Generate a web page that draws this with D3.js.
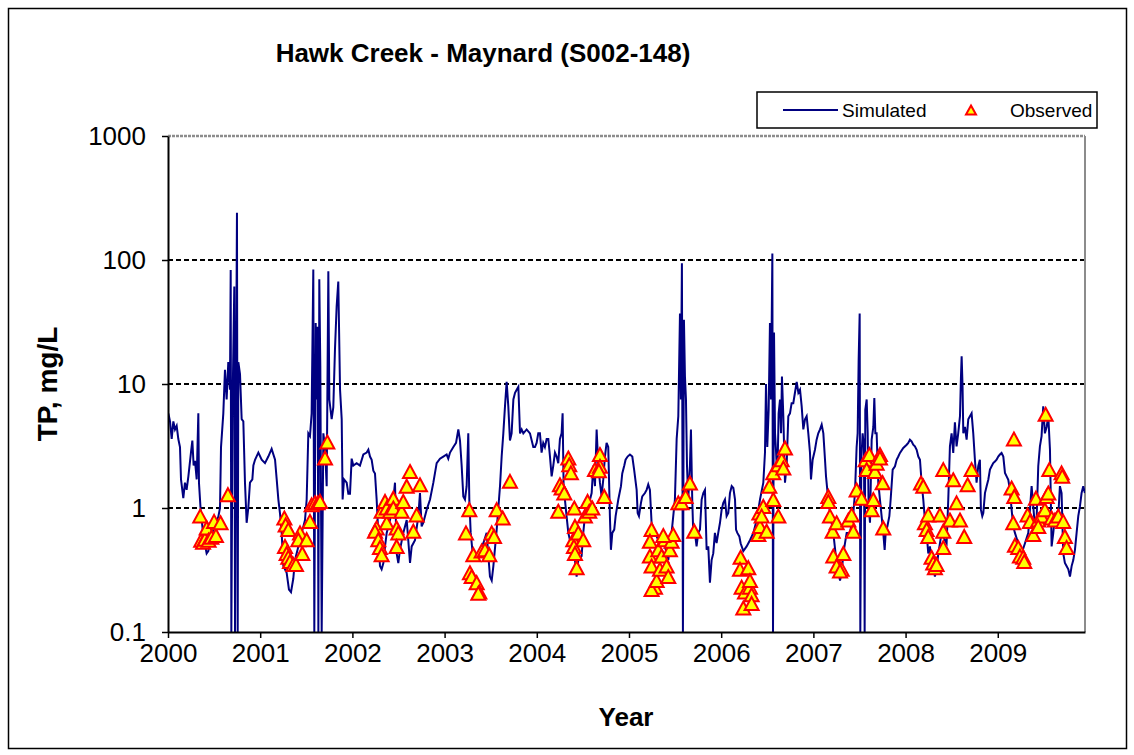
<!DOCTYPE html>
<html>
<head>
<meta charset="utf-8">
<title>Hawk Creek - Maynard TP</title>
<script src="https://cdn.jsdelivr.net/npm/d3@7"></script>
<style>
  body { margin: 0; background: #fff; }
  text { font-family: "Liberation Sans", Arial, sans-serif; }
</style>
</head>
<body>
<script>
// tick labels
var yearLabels = ["2000", "2001", "2002", "2003", "2004", "2005", "2006", "2007", "2008", "2009"];
var yTicks = [0.1, 1, 10, 100, 1000];

// simulated TP, [years since Jan 2000, mg/L]
var simulated = [
  [0.004,5.8],[0.022,5.0],[0.040,3.6],[0.058,5.0],[0.076,4.3],[0.094,4.6],[0.112,3.6],[0.130,3.1],[0.141,1.7],[0.166,1.2],[0.184,1.6],[0.202,1.4],[0.221,1.8],[0.249,2.8],[0.264,3.5],[0.278,2.2],[0.293,2.4],[0.311,1.7],[0.329,5.8],[0.336,1.6],[0.354,0.97],[0.383,0.6],[0.419,0.43],[0.437,0.45],[0.474,0.6],[0.51,0.75],[0.546,0.85],[0.564,1.0],[0.575,3.1],[0.600,5.8],[0.618,13],[0.636,7.5],[0.654,15],[0.672,9],[0.680,83],[0.687,0.1],[0.701,7.5],[0.719,61],[0.727,0.1],[0.738,10],[0.748,240],[0.756,0.1],[0.763,15],[0.781,12],[0.799,5.2],[0.817,5.0],[0.835,1.6],[0.853,0.76],[0.871,1.0],[0.889,1.6],[0.915,1.7],[0.926,2.2],[0.944,2.45],[0.980,2.8],[1.016,2.45],[1.052,2.3],[1.088,2.6],[1.124,3.0],[1.161,2.45],[1.179,1.7],[1.197,1.17],[1.215,0.9],[1.233,0.63],[1.251,0.34],[1.287,0.30],[1.312,0.22],[1.334,0.21],[1.359,0.27],[1.377,0.38],[1.414,0.49],[1.450,0.63],[1.486,0.8],[1.504,1.17],[1.522,4.0],[1.540,3.8],[1.558,5.8],[1.576,84],[1.587,0.1],[1.602,31],[1.612,7.5],[1.623,29],[1.631,0.1],[1.641,70],[1.652,14],[1.667,0.1],[1.685,4],[1.703,3.1],[1.721,1.5],[1.739,81],[1.750,7.5],[1.775,5.2],[1.793,6.5],[1.811,19],[1.829,42],[1.847,67],[1.866,9],[1.884,5.2],[1.894,1.17],[1.909,1.7],[1.938,1.6],[1.956,1.3],
  [1.974,1.3],[1.992,2.5],[2.010,2.2],[2.046,2.3],[2.082,2.2],[2.119,2.7],[2.155,2.8],[2.173,2.95],[2.191,2.6],[2.209,2.45],[2.227,2.0],[2.245,1.9],[2.263,1.17],[2.281,0.63],[2.299,0.34],[2.317,0.32],[2.336,0.36],[2.354,0.49],[2.372,0.63],[2.408,0.8],[2.444,1.17],[2.462,1.6],[2.480,0.43],[2.498,0.36],[2.516,0.46],[2.552,0.63],[2.589,0.8],[2.625,0.36],[2.643,0.49],[2.679,0.55],[2.715,0.86],[2.733,1.32],[2.751,0.71],[2.769,0.76],[2.806,0.97],[2.842,1.17],[2.878,1.6],[2.914,2.3],[2.950,2.5],[2.986,2.6],[3.022,2.7],[3.040,2.5],[3.059,2.8],[3.095,3.1],[3.124,3.35],[3.149,4.3],[3.167,3.5],[3.185,2.2],[3.203,1.24],[3.221,1.17],[3.239,1.5],[3.257,4.0],[3.268,1.17],[3.283,0.63],[3.312,0.38],[3.348,0.38],[3.384,0.46],[3.420,0.52],[3.456,0.63],[3.492,0.28],[3.511,0.26],[3.529,0.34],[3.565,0.67],[3.601,1.5],[3.619,2.6],[3.637,4.0],[3.655,6.6],[3.673,10.4],[3.691,6.6],[3.709,3.5],[3.727,4.0],[3.746,7.5],[3.764,8.5],[3.782,9.0],[3.800,9.5],[3.818,4.0],[3.836,4.3],[3.854,4.0],[3.890,4.3],[3.926,4.0],[3.962,3.1],
  [3.980,3.1],[3.998,3.35],[4.016,4.0],[4.034,4.0],[4.052,2.8],[4.070,3.35],[4.088,3.1],[4.107,3.6],[4.125,3.6],[4.143,2.6],[4.161,1.8],[4.179,2.2],[4.197,2.8],[4.215,2.6],[4.233,2.3],[4.251,3.6],[4.269,4.0],[4.280,5.8],[4.291,1.5],[4.305,1.17],[4.323,0.86],[4.342,0.63],[4.360,0.55],[4.378,0.46],[4.414,0.38],[4.432,0.28],[4.450,0.38],[4.486,0.41],[4.504,0.63],[4.522,0.86],[4.558,1.03],[4.595,1.32],[4.613,2.2],[4.631,1.5],[4.649,4.3],[4.667,2.2],[4.685,1.6],[4.703,1.24],[4.721,1.7],[4.739,2.6],[4.757,3.35],[4.775,3.1],[4.793,0.86],[4.804,0.46],[4.819,0.63],[4.840,0.67],[4.855,0.86],[4.884,1.17],[4.913,1.5],[4.927,1.9],[4.949,2.2],[4.963,2.45],[4.985,2.6],[5.010,2.7],[5.036,2.6],[5.057,2.0],[5.083,1.4],[5.094,0.91],[5.108,0.86],[5.130,1.1],[5.144,1.24],[5.173,1.32],[5.191,1.4],[5.209,1.55],[5.227,1.4],[5.245,0.76],[5.282,0.63],[5.318,0.55],[5.336,0.49],[5.354,0.59],[5.390,0.49],[5.426,0.38],[5.462,0.63],[5.498,1.17],[5.517,3.6],[5.535,5.5],[5.553,37],[5.563,7.5],[5.574,94],[5.585,0.1],[5.596,33],[5.607,11.5],[5.618,7.5],[5.629,2.2],[5.643,1.17],[5.661,2.2],[5.672,4.3],[5.686,1.17],[5.697,0.63],[5.715,0.63],[5.733,0.49],[5.751,0.63],[5.770,0.67],[5.788,1.17],[5.806,1.32],[5.824,1.4],[5.842,0.46],[5.860,0.49],[5.878,0.25],[5.896,0.38],[5.914,0.43],[5.932,0.63],[5.950,0.52],[5.968,0.63],
  [5.987,0.76],[6.005,0.97],[6.023,1.1],[6.041,1.17],[6.059,0.86],[6.077,0.91],[6.095,1.32],[6.114,1.5],[6.132,1.45],[6.150,1.17],[6.161,0.67],[6.175,0.63],[6.197,0.59],[6.211,0.52],[6.240,0.45],[6.276,0.49],[6.312,0.55],[6.349,0.63],[6.385,0.8],[6.421,1.17],[6.457,1.6],[6.475,2.8],[6.486,10],[6.500,3.1],[6.515,6.2],[6.529,31],[6.540,7.5],[6.555,113],[6.562,0.1],[6.573,26],[6.584,4.0],[6.594,2.95],[6.609,1.7],[6.623,5.8],[6.638,7.5],[6.649,4.0],[6.659,11.5],[6.674,5.5],[6.692,1.6],[6.710,2.2],[6.728,5.5],[6.746,5.8],[6.764,7.0],[6.782,7.0],[6.800,8.5],[6.819,10.4],[6.837,8.5],[6.855,9.0],[6.873,6.6],[6.891,4.3],[6.909,5.2],[6.927,5.5],[6.945,4.0],[6.963,2.8],[6.974,1.7],[6.992,2.45],[7.017,2.95],[7.035,3.56],[7.053,4.0],[7.072,4.3],[7.090,4.7],[7.108,4.0],[7.126,2.45],[7.137,1.8],[7.151,1.4],[7.162,1.17],[7.180,0.91],[7.216,0.63],[7.252,0.36],[7.289,0.26],[7.307,0.30],[7.325,0.43],[7.361,0.63],[7.397,0.63],[7.433,0.91],[7.451,1.32],[7.469,3.1],[7.480,4.0],[7.491,15.7],[7.502,37],[7.509,0.1],[7.520,2.45],[7.534,4.0],[7.549,3.1],[7.556,0.1],[7.563,6.2],[7.578,7.5],[7.589,4.0],[7.599,1.03],[7.614,0.76],[7.632,3.56],[7.650,4.5],[7.661,7.7],[7.672,4.0],[7.686,4.0],[7.704,1.6],[7.722,1.17],[7.740,0.86],[7.758,0.63],[7.773,0.46],[7.784,0.63],[7.802,0.71],[7.824,0.86],[7.838,1.17],[7.860,2.04],[7.885,2.17],[7.903,2.45],[7.921,2.6],[7.939,2.78],[7.975,3.05],[8.012,3.24],
  [8.029,3.35],[8.047,3.56],[8.065,3.45],[8.083,3.24],[8.101,3.14],[8.120,2.95],[8.138,2.6],[8.156,2.45],[8.174,1.6],[8.192,1.17],[8.210,0.8],[8.228,0.63],[8.246,0.43],[8.264,0.49],[8.282,0.38],[8.300,0.34],[8.318,0.28],[8.336,0.32],[8.355,0.43],[8.391,0.63],[8.427,0.55],[8.445,0.52],[8.463,1.17],[8.481,3.14],[8.499,4.0],[8.517,2.78],[8.535,4.9],[8.553,3.14],[8.571,4.0],[8.590,5.5],[8.600,11],[8.608,16.7],[8.618,9.5],[8.626,4.0],[8.644,4.5],[8.662,3.56],[8.680,5.2],[8.698,5.5],[8.716,5.8],[8.734,4.0],[8.752,2.45],[8.770,1.6],[8.788,2.17],[8.806,2.45],[8.817,0.97],[8.832,0.86],[8.843,0.91],[8.861,1.32],[8.879,1.5],[8.897,1.69],[8.915,2.04],[8.933,2.17],[8.951,2.3],[8.969,2.37],[8.987,2.45],[9.005,2.6],[9.023,2.7],[9.041,2.78],[9.060,2.6],[9.078,1.92],[9.096,1.8],[9.114,1.69],[9.132,1.4],[9.150,0.97],[9.168,0.71],[9.186,0.63],[9.222,0.52],[9.258,0.43],[9.295,0.52],[9.331,0.63],[9.367,1.5],[9.385,1.03],[9.403,0.71],[9.421,0.8],[9.439,2.17],[9.457,3.14],[9.475,3.8],[9.493,6.6],[9.511,4.0],[9.530,4.5],[9.548,5.5],[9.566,2.95],[9.584,0.49],[9.602,0.63],[9.620,0.86],[9.638,0.91],[9.656,0.86],[9.674,1.5],[9.692,1.32],[9.710,0.43],[9.728,0.36],[9.746,0.34],[9.765,0.32],[9.783,0.28],[9.801,0.34],[9.819,0.38],[9.837,0.46],[9.855,0.63],[9.873,0.86],[9.891,1.03],[9.909,1.32],[9.927,1.5],[9.945,1.32]
];

// observed grab samples, [years since Jan 2000, mg/L]
var observed = [
  [0.35,0.86],[0.36,0.55],[0.38,0.53],[0.40,0.56],[0.42,0.69],[0.44,0.55],[0.47,0.58],[0.50,0.78],[0.52,0.6],[0.57,0.76],[0.65,1.28],
  [1.262,0.83],[1.276,0.73],[1.305,0.67],[1.269,0.49],[1.287,0.43],[1.305,0.40],[1.323,0.37],[1.359,0.35],[1.388,0.35],[1.432,0.63],[1.414,0.555],[1.457,0.43],[1.504,0.555],[1.540,0.78],[1.558,1.06],[1.594,1.1],[1.623,1.1],[1.649,1.13],[1.703,2.53],[1.728,3.4],
  [2.263,0.69],[2.245,0.65],[2.281,0.555],[2.299,0.48],[2.317,0.42],[2.317,0.94],[2.354,1.13],[2.372,1.0],[2.372,0.76],[2.408,0.94],[2.444,1.2],[2.444,1.0],[2.480,0.69],[2.498,0.63],[2.480,0.49],[2.534,0.94],[2.552,1.13],[2.589,1.5],[2.625,1.97],[2.661,0.65],[2.697,0.88],[2.733,1.54],
  [3.268,0.97],[3.232,0.63],[3.312,0.42],[3.275,0.30],[3.294,0.28],[3.348,0.25],[3.377,0.21],[3.366,0.205],[3.402,0.45],[3.438,0.46],[3.485,0.42],[3.511,0.63],[3.536,0.59],[3.565,0.97],[3.630,0.83],[3.709,1.64],
  [4.233,0.94],[4.251,1.54],[4.269,1.45],[4.298,1.32],[4.342,2.53],[4.352,2.23],[4.370,1.92],[4.407,1.0],[4.414,0.71],[4.396,0.555],[4.403,0.49],[4.414,0.43],[4.432,0.33],[4.450,0.63],[4.504,0.555],[4.522,0.86],[4.551,1.13],[4.569,0.94],[4.602,1.0],[4.631,2.04],[4.685,2.7],[4.685,2.17],[4.674,2.0],[4.732,1.24],
  [5.245,0.67],[5.227,0.54],[5.227,0.41],[5.245,0.34],[5.282,0.23],[5.245,0.22],[5.300,0.26],[5.336,0.32],[5.318,0.46],[5.354,0.41],[5.390,0.555],[5.408,0.34],[5.426,0.28],[5.444,0.46],[5.462,0.54],[5.480,0.61],[5.372,0.6],[5.535,1.1],[5.571,1.1],[5.614,1.24],[5.661,1.59],[5.708,0.65],
  [6.211,0.40],[6.204,0.32],[6.222,0.23],[6.240,0.156],[6.258,0.21],[6.294,0.33],[6.312,0.23],[6.330,0.2],[6.330,0.17],[6.312,0.26],[6.403,0.61],[6.421,0.71],[6.414,0.91],[6.457,1.03],[6.439,0.86],[6.493,0.65],[6.522,1.5],[6.565,1.17],[6.620,0.86],[6.565,1.92],[6.620,2.23],[6.656,2.45],[6.674,2.1],[6.692,3.05],
  [7.162,1.24],[7.162,1.13],[7.180,0.86],[7.209,0.65],[7.252,0.76],[7.216,0.41],[7.252,0.34],[7.307,0.32],[7.325,0.43],[7.289,0.31],[7.379,0.8],[7.415,0.88],[7.433,0.65],[7.469,1.4],[7.523,1.2],[7.567,2.45],[7.607,2.7],[7.578,2.04],[7.632,0.97],[7.650,1.17],[7.668,1.97],[7.686,2.3],[7.722,2.7],[7.722,2.53],[7.751,1.6],[7.758,0.69],
  [8.167,1.59],[8.192,1.5],[8.210,0.76],[8.246,0.88],[8.228,0.67],[8.246,0.59],[8.282,0.40],[8.300,0.36],[8.318,0.33],[8.336,0.35],[8.373,0.88],[8.409,0.65],[8.409,0.48],[8.409,2.04],[8.481,0.8],[8.517,1.69],[8.553,1.1],[8.590,0.8],[8.636,0.59],[8.673,1.54],[8.716,2.04],
  [9.175,3.6],[9.150,1.45],[9.179,1.24],[9.168,0.76],[9.186,0.5],[9.222,0.48],[9.240,0.41],[9.276,0.40],[9.287,0.37],[9.323,0.88],[9.349,0.78],[9.385,0.61],[9.414,1.2],[9.439,0.8],[9.475,0.86],[9.511,0.97],[9.530,1.24],[9.548,1.32],[9.519,5.7],[9.559,2.04],[9.584,0.83],[9.620,0.8],[9.656,0.86],[9.692,1.92],[9.699,1.8],[9.710,0.78],[9.728,0.59],[9.746,0.48],[9.439,0.71]
];

var W = 1134, H = 755;
var plotL = 168, plotR = 1085, plotT = 136, plotB = 632;

var svg = d3.select("body").append("svg")
    .attr("width", W)
    .attr("height", H);

// outer chart frame
svg.append("rect")
    .attr("x", 8.5).attr("y", 8.5)
    .attr("width", 1118).attr("height", 740)
    .style("fill", "none").style("stroke", "#000").style("stroke-width", 1.5);

var x = d3.scaleLinear().domain([0, 9.946]).range([plotL, plotR]);
var y = d3.scaleLog().domain([0.1, 1000]).range([plotB, plotT]);

svg.append("clipPath").attr("id", "plot")
  .append("rect")
    .attr("x", plotL).attr("y", plotT)
    .attr("width", plotR - plotL).attr("height", plotB - plotT);

// dashed gridlines
svg.append("g").selectAll("line")
    .data([1, 10, 100])
  .enter().append("line")
    .attr("x1", plotL).attr("x2", plotR)
    .attr("y1", function(d) { return y(d); })
    .attr("y2", function(d) { return y(d); })
    .style("stroke", "#000")
    .style("stroke-width", 1.8)
    .style("stroke-dasharray", "5,3");

// plot area border, top and right (grey)
svg.append("line")
    .attr("x1", plotL).attr("x2", plotR).attr("y1", plotT).attr("y2", plotT)
    .style("stroke", "#8c8c8c").style("stroke-width", 2.5).style("stroke-dasharray", "3,1");
svg.append("line")
    .attr("x1", plotR).attr("x2", plotR).attr("y1", plotT).attr("y2", plotB)
    .style("stroke", "#8c8c8c").style("stroke-width", 2);

// simulated series
var line = d3.line()
    .x(function(d) { return x(d[0]); })
    .y(function(d) { return y(d[1]); });

svg.append("path")
    .datum(simulated)
    .attr("clip-path", "url(#plot)")
    .attr("d", line)
    .style("fill", "none")
    .style("stroke", "#000080")
    .style("stroke-width", 2);

// observed triangles
var tri = "M0,-6.5L7,6.5L-7,6.5Z";
svg.append("g").selectAll("path")
    .data(observed)
  .enter().append("path")
    .attr("d", tri)
    .attr("transform", function(d) { return "translate(" + x(d[0]) + "," + y(d[1]) + ")"; })
    .style("fill", "#ffff00")
    .style("stroke", "#ff0000")
    .style("stroke-width", 2);

// axes
var yAxis = d3.axisLeft(y)
    .tickValues(yTicks)
    .tickSize(6)
    .tickSizeOuter(0)
    .tickFormat(function(d) { return String(d); });
var gy = svg.append("g").attr("transform", "translate(" + plotL + ",0)").call(yAxis);
gy.select(".domain").style("stroke", "#000").style("stroke-width", 2);
gy.selectAll(".tick line").style("stroke", "#000").style("stroke-width", 1.5);
gy.selectAll(".tick text")
    .attr("x", -22)
    .style("font-size", "26px")
    .style("font-family", "'Liberation Sans', Arial, sans-serif")
    .style("fill", "#000");

var xAxis = d3.axisBottom(x)
    .tickValues(d3.range(yearLabels.length))
    .tickSize(6)
    .tickSizeOuter(0)
    .tickFormat(function(d, i) { return yearLabels[i]; });
var gx = svg.append("g").attr("transform", "translate(0," + plotB + ")").call(xAxis);
gx.select(".domain").style("stroke", "#000").style("stroke-width", 2);
gx.selectAll(".tick line").style("stroke", "#000").style("stroke-width", 1.5);
gx.selectAll(".tick text")
    .attr("y", 12)
    .style("font-size", "26px")
    .style("font-family", "'Liberation Sans', Arial, sans-serif")
    .style("fill", "#000");

// titles
svg.append("text")
    .attr("x", 483).attr("y", 62)
    .attr("text-anchor", "middle")
    .style("font-size", "26px").style("font-weight", "bold")
    .text("Hawk Creek - Maynard  (S002-148)");

svg.append("text")
    .attr("x", 626).attr("y", 726)
    .attr("text-anchor", "middle")
    .style("font-size", "26px").style("font-weight", "bold")
    .text("Year");

svg.append("text")
    .attr("transform", "translate(57,384) rotate(-90)")
    .attr("text-anchor", "middle")
    .style("font-size", "28px").style("font-weight", "bold")
    .text("TP, mg/L");

// legend
var lg = svg.append("g");
lg.append("rect")
    .attr("x", 757).attr("y", 92)
    .attr("width", 340).attr("height", 36)
    .style("fill", "#fff").style("stroke", "#000").style("stroke-width", 1.5);
lg.append("line")
    .attr("x1", 783).attr("x2", 838).attr("y1", 110).attr("y2", 110)
    .style("stroke", "#000080").style("stroke-width", 2);
lg.append("text")
    .attr("x", 842).attr("y", 117)
    .style("font-size", "19px")
    .text("Simulated");
lg.append("path")
    .attr("d", "M0,-4.5L5,4.5L-5,4.5Z")
    .attr("transform", "translate(971,110)")
    .style("fill", "#ffff00").style("stroke", "#ff0000").style("stroke-width", 2);
lg.append("text")
    .attr("x", 1010).attr("y", 117)
    .style("font-size", "19px")
    .text("Observed");
</script>
</body>
</html>
